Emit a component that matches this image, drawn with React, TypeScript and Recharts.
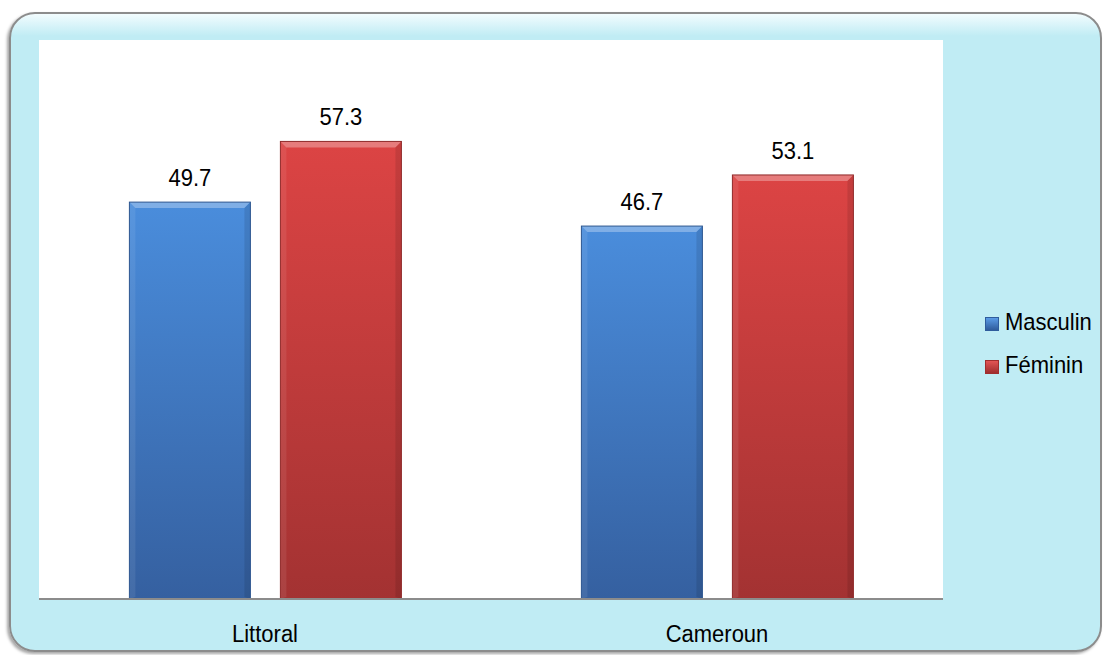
import React from 'react';
import { BarChart, Bar, XAxis, YAxis, CartesianGrid, LabelList } from 'recharts';

const regions: string[] = ['Littoral', 'Cameroun'];
const masculin: number[] = [49.7, 46.7];
const feminin: number[] = [57.3, 53.1];

const data = regions.map((name, i) => ({ name, masculin: masculin[i], feminin: feminin[i] }));

const FONT = '"Liberation Sans", Arial, sans-serif';

const BevelBar = (props: any) => {
    const { x, y, width, height, gid, edge } = props;
    if (!height || height <= 0) return null;
    const b = 6;
    return (
        <g>
            <rect x={x} y={y} width={width} height={height} fill={`url(#${gid})`} />
            <polygon points={`${x},${y} ${x + width},${y} ${x + width - b},${y + b} ${x + b},${y + b}`} fill="#fff" fillOpacity={0.3} />
            <polygon points={`${x},${y} ${x + b},${y + b} ${x + b},${y + height - 2} ${x},${y + height}`} fill="#fff" fillOpacity={0.08} />
            <polygon points={`${x + width},${y} ${x + width - b},${y + b} ${x + width - b},${y + height - 2} ${x + width},${y + height}`} fill="#000" fillOpacity={0.1} />
            <rect x={x} y={y} width={width} height={height} fill="none" stroke={edge} strokeWidth={1} />
        </g>
    );
};

// text in the source is slightly taller than wide
const TallText = ({ x, y, children }: any) => (
    <text transform={`translate(${x},${y}) scale(1,1.12)`} textAnchor="middle" fill="#000"
        fontFamily={FONT} fontSize={22}>{children}</text>
);

const ValueLabel = (props: any) => {
    const { x, y, width, value } = props;
    return <TallText x={x + width / 2} y={y - 16}>{value}</TallText>;
};

const CatTick = (props: any) => {
    const { x, y, payload } = props;
    return <TallText x={x} y={y + 35}>{payload.value}</TallText>;
};

const LegendBox = () => (
    <div style={{ position: 'absolute', left: 985, top: 300, fontFamily: FONT, fontSize: 22, color: '#000' }}>
        {[
            { label: 'Masculin', top: '#5A9BE6', bot: '#2F5C9C' },
            { label: 'Féminin', top: '#E25555', bot: '#A02E2E' },
        ].map((it) => (
            <div key={it.label} style={{ display: 'flex', alignItems: 'center', height: 43 }}>
                <span style={{ display: 'inline-block', width: 12, height: 12, marginRight: 6, marginTop: 4, background: `linear-gradient(${it.top}, ${it.bot})`, border: `1px solid ${it.bot}` }} />
                <span style={{ display: 'inline-block', transform: 'scaleY(1.12)' }}>{it.label}</span>
            </div>
        ))}
    </div>
);

const App: React.FC = () => (
    <div style={{ position: 'absolute', left: 0, top: 0, width: 1104, height: 655, overflow: 'hidden', background: '#fff' }}>
        <div style={{
            position: 'absolute', left: 9, top: 12, width: 1089, height: 636,
            borderRadius: 26, background: 'linear-gradient(#F2FCFE 0px, #C0ECF4 22px, #C0ECF4 100%)',
            border: '2px solid #8C8C8C', boxShadow: '-2px 2px 3px rgba(0,0,0,0.35)',
        }} />
        <div style={{ position: 'absolute', left: 0, top: 0 }}>
            <BarChart width={1104} height={655} data={data}
                margin={{ top: 40, right: 161, bottom: 6, left: 39 }}
                barCategoryGap="20%" barGap={30}>
                <defs>
                    <linearGradient id="gBlue" x1="0" y1="0" x2="0" y2="1">
                        <stop offset="0%" stopColor="#4A8DDC" />
                        <stop offset="100%" stopColor="#3560A0" />
                    </linearGradient>
                    <linearGradient id="gRed" x1="0" y1="0" x2="0" y2="1">
                        <stop offset="0%" stopColor="#DC4444" />
                        <stop offset="100%" stopColor="#A33232" />
                    </linearGradient>
                </defs>
                <CartesianGrid fill="#fff" horizontal={false} vertical={false} stroke="none" />
                <YAxis hide domain={[0, 70]} />
                <XAxis dataKey="name" height={50} axisLine={{ stroke: '#8C8C8C', strokeWidth: 2 }} tickLine={false}
                    tick={<CatTick />} />
                <Bar dataKey="masculin" isAnimationActive={false}
                    shape={(p: any) => <BevelBar {...p} gid="gBlue" edge="#2D568F" />}>
                    <LabelList dataKey="masculin" content={<ValueLabel />} />
                </Bar>
                <Bar dataKey="feminin" isAnimationActive={false}
                    shape={(p: any) => <BevelBar {...p} gid="gRed" edge="#8F2A2A" />}>
                    <LabelList dataKey="feminin" content={<ValueLabel />} />
                </Bar>
            </BarChart>
        </div>
        <LegendBox />
    </div>
);

export default App;
